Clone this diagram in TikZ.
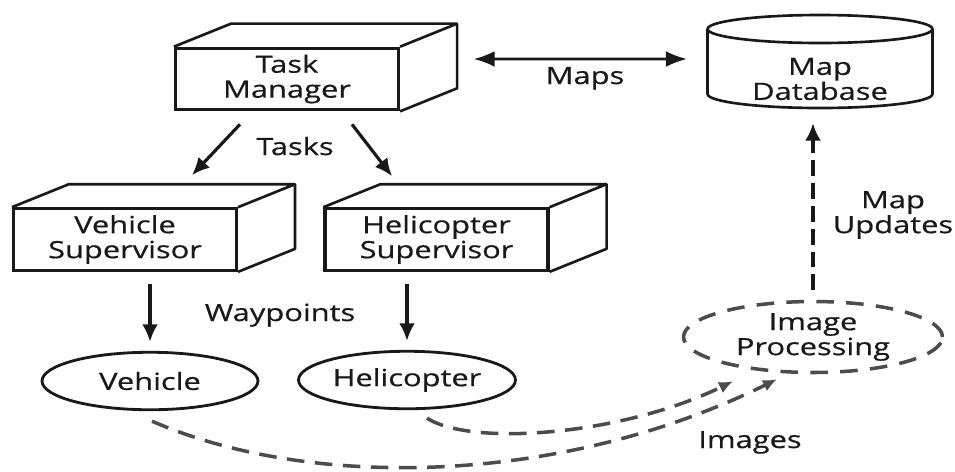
\documentclass[tikz,border=0pt]{standalone}
\usepackage{fontspec}
\setmainfont{Open Sans}[FakeStretch=1.3,FakeBold=0.6]
\usetikzlibrary{arrows.meta,shapes.geometric}
\definecolor{ink}{rgb}{0.1,0.1,0.1}
\definecolor{dashgray}{rgb}{0.3,0.3,0.3}

\begin{document}
\begin{tikzpicture}[x=0.02cm,y=0.02cm,>=Latex,
  every node/.style={font=\fontsize{13.5}{14.2}\selectfont,text=ink,align=center},
  block/.style={draw=ink,line width=1.8pt,minimum width=4.46cm,minimum height=1.23cm,inner sep=0pt},
  face/.style={draw=ink,line width=1.5pt,line join=round},
  blob/.style={ellipse,draw=ink,line width=1.6pt,inner sep=0pt,minimum width=4.32cm,minimum height=1.15cm},
  flow/.style={->,ink,line width=1.8pt,>={Latex[length=10pt,width=9pt]}},
  imgflow/.style={->,dashgray,line width=2pt,dash pattern=on 10pt off 6pt,>={Latex[length=8pt,width=7pt]}},
  lbl/.style={anchor=base,inner sep=0pt}]
\useasboundingbox (0,0) rectangle (955,-471);

% boxes with a top and a side face
\node[block] (tm) at (287,-79) {Task\\Manager};
\node[block] (vs) at (125,-239.5) {Vehicle\\Supervisor};
\node[block] (hs) at (436.5,-239.5) {Helicopter\\Supervisor};
\foreach \b in {tm,vs,hs}
  \draw[face] (\b.north west) -- ++(57,23) -| ([shift={(57,23)}]\b.south east) -- (\b.south east)
              (\b.north east) -- ++(57,23);

% database drum
\node (db) at (820,-79) {Map\\Database};
\coordinate (lid) at (820,-29);
\coordinate (dbbase) at (820,-108);
\draw[face] ([xshift=-2.25cm]lid) -- ++(0,-65)
  arc[start angle=180,end angle=360,x radius=2.25cm,y radius=0.28cm] -- ([xshift=2.25cm]lid);
\draw[face] (lid) ellipse[x radius=2.25cm,y radius=0.28cm];

\draw[<->,ink,line width=1.5pt,>={Latex[length=12pt,width=9pt]},shorten <=0.33cm,shorten >=0.41cm]
  ([shift={(57,20)}]tm.east) -- ([xshift=-2.25cm,yshift=-0.6cm]lid);
\node[lbl] (maps) at (585,-84) {Maps};

% tasks
\draw[flow] ([shift={(-47,-13)}]tm.south) -- ([shift={(67,32)}]vs.north);
\draw[flow] ([shift={(65,-13)}]tm.south) -- ([shift={(-44.5,31)}]hs.north);
\node[lbl] (tasks) at (295,-155) {Tasks};

% vehicles
\node[blob] (ve) at (150,-381) {Vehicle};
\node[blob,minimum width=4.34cm] (he) at (407,-380) {Helicopter};
\draw[flow,shorten <=0.24cm,shorten >=0.18cm] (vs.south -| ve.north) -- (ve.north);
\draw[flow,shorten <=0.24cm,shorten >=0.18cm] (hs.south -| he.north) -- (he.north);
\node[lbl] (wp) at (280,-321) {Waypoints};

% image processing
\node[ellipse,draw=dashgray,line width=2pt,dash pattern=on 10pt off 7pt,inner sep=0pt,
      minimum width=5.18cm,minimum height=1.42cm] (ip) at (813,-337) {Image\\Processing};
\draw[->,ink,line width=2pt,dash pattern=on 9pt off 4pt,>={Latex[length=10pt,width=9pt]},
      shorten <=0.19cm,shorten >=0.3cm] (ip.north) -- (ip.north |- dbbase);
\node (upd) at (893,-215) {Map\\Updates};

\draw[imgflow] ([shift={(2,-10)}]ve.south) .. controls (310,-490) and (560,-486) .. ([shift={(-36,-5)}]ip.south);
\draw[imgflow] ([shift={(20,-8)}]he.south) .. controls (472,-447) and (623,-435) .. ([shift={(-80,-7)}]ip.south);
\node[lbl] (imgs) at (750,-448) {Images};
\end{tikzpicture}
\end{document}
